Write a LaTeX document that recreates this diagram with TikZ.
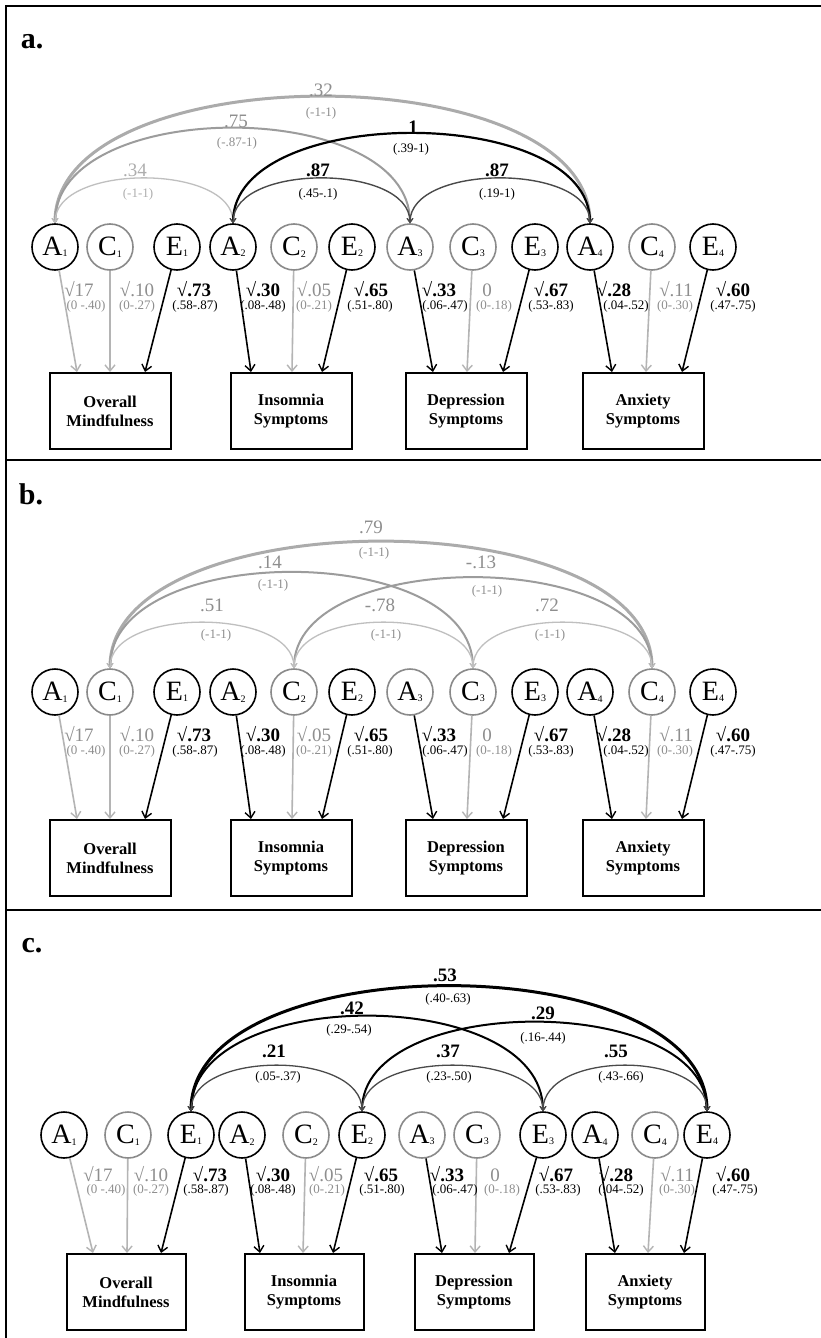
\documentclass[tikz,border=0pt]{standalone}
\usepackage{fontspec}
\setmainfont{Liberation Serif}
\usetikzlibrary{arrows.meta}
\definecolor{cgray}{HTML}{8A8A8A}
\definecolor{lgray}{HTML}{B4B4B4}
\definecolor{tgray}{HTML}{8E8E8E}
\definecolor{ltgray}{HTML}{AEAEAE}
\definecolor{dgray}{HTML}{4A4A4A}
\definecolor{mgray}{HTML}{9C9C9C}
\newcommand\fs[2]{\fontsize{#1}{#2}\selectfont}
\newcommand\lsub[1]{\kern0.2pt\raisebox{-1.5pt}{\fs{10}{10}#1}}
\begin{document}
\begin{tikzpicture}[x=1pt,y=-1pt,
  latent/.style={circle,draw,line width=1.6pt,minimum size=46pt,inner sep=0pt,font=\fs{28}{28}},
  obs/.style={rectangle,draw,line width=2pt,minimum width=121pt,minimum height=76pt,align=center,font=\fs{16.5}{19}\bfseries},
  sig/.style={line width=1.6pt,draw=black,-{Straight Barb[length=6pt,width=10pt,line width=1.4pt]}},
  ns/.style={line width=1.6pt,draw=lgray,-{Straight Barb[length=6pt,width=10pt,line width=1.4pt]}},
  cov/.style={{Straight Barb[length=4pt,width=6pt,line width=1pt]}-{Straight Barb[length=4pt,width=6pt,line width=1pt]}},
  val/.style={font=\fs{19}{19},inner sep=0pt,text height=14pt,text depth=0pt},
  aval/.style={font=\fs{19}{19},inner sep=0pt,text height=13pt,text depth=0pt},
  rng/.style={font=\fs{13}{13},inner sep=0pt,text height=10pt,text depth=3pt},
  plab/.style={font=\fs{30}{30}\bfseries,inner sep=0pt}
]
\useasboundingbox (0,0) rectangle (821,1338);
\fill[white] (0,0) rectangle (821,1338);
% frame
\draw[line width=2.5pt] (6,1338) -- (6,6) -- (821,6);
\draw[line width=2pt] (6,460) -- (821,460);
\draw[line width=2.5pt] (6,910) -- (821,910);

% ---------- panels a and b: bottom rows ----------
\foreach \p/\cy/\ry in {a/247/411, b/692/858} {
  \foreach \n/\l/\d/\x/\c in {A1/A/1/55/black, C1/C/1/110/cgray, E1/E/1/177/black,
      A2/A/2/233/black, C2/C/2/294/cgray, E2/E/2/352/black,
      A3/A/3/410/cgray, C3/C/3/473/cgray, E3/E/3/535/black,
      A4/A/4/590/black, C4/C/4/652/cgray, E4/E/4/713/black} {
    \node[latent,draw=\c] (\p\n) at (\x,\cy) {\l\lsub{\d}};
  }
  \node[obs] (\p Mind) at (110,\ry) {Overall\\Mindfulness};
  \node[obs] (\p Ins) at (291,\ry) {Insomnia\\Symptoms};
  \node[obs] (\p Dep) at (466,\ry) {Depression\\Symptoms};
  \node[obs] (\p Anx) at (643,\ry) {Anxiety\\Symptoms};
  \foreach \s/\t/\dx/\st in {A1/Mind/-33/ns, C1/Mind/0/ns, E1/Mind/35/sig,
      A2/Ins/-40/sig, C2/Ins/1/ns, E2/Ins/31/sig,
      A3/Dep/-33/sig, C3/Dep/1/ns, E3/Dep/37/sig,
      A4/Anx/-31/sig, C4/Anx/3/ns, E4/Anx/39/sig} {
    \draw[\st] (\p\s) -- ([xshift=\dx pt]\p\t.north);
  }
  \foreach \xv/\xr/\c/\tv/\tr in {79/86/tgray/√17/(0 -.40), 137/137/tgray/√.10/(0-.27),
      194/195/black/\textbf{√.73}/(.58-.87), 263/263/black/\textbf{√.30}/(.08-.48),
      314/314/tgray/√.05/(0-.21), 371/370/black/\textbf{√.65}/(.51-.80),
      439/445/black/\textbf{√.33}/(.06-.47), 487/494/tgray/0/(0-.18),
      551/551/black/\textbf{√.67}/(.53-.83), 614/626/black/\textbf{√.28}/(.04-.52),
      676/675/tgray/√.11/(0-.30), 733/733/black/\textbf{√.60}/(.47-.75)} {
    \node[val,text=\c] at (\xv,\cy+42) {\tv};
    \node[rng,text=\c] at (\xr,\cy+58.5) {\tr};
  }
}

% ---------- panel c: bottom row ----------
\foreach \n/\l/\d/\x/\c in {A1/A/1/64/black, C1/C/1/128/cgray, E1/E/1/191/black,
    A2/A/2/242/black, C2/C/2/306/cgray, E2/E/2/362/black,
    A3/A/3/422/cgray, C3/C/3/477/cgray, E3/E/3/543/black,
    A4/A/4/595/black, C4/C/4/655/cgray, E4/E/4/707/black} {
  \node[latent,draw=\c] (c\n) at (\x,1135) {\l\lsub{\d}};
}
\node[obs,minimum width=119pt] (cMind) at (126,1292) {Overall\\Mindfulness};
\node[obs,minimum width=119pt] (cIns) at (304,1292) {Insomnia\\Symptoms};
\node[obs,minimum width=119pt] (cDep) at (474,1292) {Depression\\Symptoms};
\node[obs,minimum width=119pt] (cAnx) at (645,1292) {Anxiety\\Symptoms};
\foreach \s/\t/\dx/\st in {A1/Mind/-33/ns, C1/Mind/1/ns, E1/Mind/35/sig,
    A2/Ins/-44/sig, C2/Ins/-1/ns, E2/Ins/29/sig,
    A3/Dep/-32/sig, C3/Dep/1/ns, E3/Dep/35/sig,
    A4/Anx/-30/sig, C4/Anx/3/ns, E4/Anx/39/sig} {
  \draw[\st] (c\s) -- ([xshift=\dx pt]c\t.north);
}
\foreach \xv/\xr/\c/\tv/\tr in {98/106/tgray/√17/(0 -.40), 151/151/tgray/√.10/(0-.27),
    210/206/black/\textbf{√.73}/(.58-.87), 273/273/black/\textbf{√.30}/(.08-.48),
    326/327/tgray/√.05/(0-.21), 381/382/black/\textbf{√.65}/(.51-.80),
    447/455/black/\textbf{√.33}/(.06-.47), 495/502/tgray/0/(0-.18),
    556/558/black/\textbf{√.67}/(.53-.83), 616/621/black/\textbf{√.28}/(.04-.52),
    677/677/tgray/√.11/(0-.30), 733/735/black/\textbf{√.60}/(.47-.75)} {
  \node[val,text=\c] at (\xv,1174) {\tv};
  \node[rng,text=\c] at (\xr,1190) {\tr};
}

% ---------- panel labels ----------
\node[plab] (la) at (32,42) {a.};
\node[plab] (lb) at (31,494) {b.};
\node[plab] (lc) at (32,946) {c.};

% ---------- panel a arcs ----------
\draw[cov,line width=3pt,draw=mgray!85] (aA1.north) .. controls +(0,-169) and +(0,-169) .. (aA4.north);
\draw[cov,line width=2pt,draw=mgray] (aA1.north) .. controls +(0,-127) and +(0,-127) .. (aA3.north);
\draw[cov,line width=1.3pt,draw=lgray!85] (aA1.north) .. controls +(0,-60) and +(0,-60) .. (aA2.north);
\draw[cov,line width=2.2pt,draw=black] (aA2.north) .. controls +(0,-120) and +(0,-120) .. (aA4.north);
\draw[cov,line width=1.4pt,draw=dgray] (aA2.north) .. controls +(0,-60) and +(0,-60) .. (aA3.north);
\draw[cov,line width=1.4pt,draw=dgray] (aA3.north) .. controls +(0,-60) and +(0,-60) .. (aA4.north);
\node[aval,text=tgray] at (321,90) {.32};
\node[rng,text=tgray] at (321,113) {(-1-1)};
\node[aval,text=tgray] at (236,121) {.75};
\node[rng,text=tgray] at (237,143) {(-.87-1)};
\node[aval] at (413,127) {\textbf{1}};
\node[rng] at (411,149) {(.39-1)};
\node[aval,text=ltgray] at (135,170) {.34};
\node[rng,text=ltgray] at (138,194) {(-1-1)};
\node[aval] at (318,170) {\textbf{.87}};
\node[rng] at (318,194) {(.45-.1)};
\node[aval] at (497,170) {\textbf{.87}};
\node[rng] at (497,194) {(.19-1)};

% ---------- panel b arcs ----------
\draw[cov,line width=3pt,draw=mgray!85] (bC1.north) .. controls +(0,-169) and +(0,-169) .. (bC4.north);
\draw[cov,line width=2pt,draw=mgray] (bC1.north) .. controls +(0,-128) and +(0,-128) .. (bC3.north);
\draw[cov,line width=2pt,draw=mgray] (bC2.north) .. controls +(0,-121) and +(0,-121) .. (bC4.north);
\draw[cov,line width=1.3pt,draw=lgray!85] (bC1.north) .. controls +(0,-61) and +(0,-61) .. (bC2.north);
\draw[cov,line width=1.3pt,draw=lgray!85] (bC2.north) .. controls +(0,-61) and +(0,-61) .. (bC3.north);
\draw[cov,line width=1.3pt,draw=lgray!85] (bC3.north) .. controls +(0,-61) and +(0,-61) .. (bC4.north);
\node[aval,text=tgray] at (371,527) {.79};
\node[rng,text=tgray] at (374,553) {(-1-1)};
\node[aval,text=tgray] at (270,562) {.14};
\node[rng,text=tgray] at (273,585) {(-1-1)};
\node[aval,text=tgray] at (481,562) {-.13};
\node[rng,text=tgray] at (487,591) {(-1-1)};
\node[aval,text=tgray] at (212,605) {.51};
\node[rng,text=tgray] at (216,635) {(-1-1)};
\node[aval,text=tgray] at (380,605) {-.78};
\node[rng,text=tgray] at (386,635) {(-1-1)};
\node[aval,text=tgray] at (547,605) {.72};
\node[rng,text=tgray] at (550,635) {(-1-1)};

% ---------- panel c arcs ----------
\draw[cov,line width=3pt,draw=black] (cE1.north) .. controls +(0,-167) and +(0,-167) .. (cE4.north);
\draw[cov,line width=2pt,draw=black] (cE1.north) .. controls +(0,-127) and +(0,-127) .. (cE3.north);
\draw[cov,line width=2pt,draw=black] (cE2.north) .. controls +(0,-119) and +(0,-119) .. (cE4.north);
\draw[cov,line width=1.3pt,draw=dgray] (cE1.north) .. controls +(0,-61) and +(0,-61) .. (cE2.north);
\draw[cov,line width=1.3pt,draw=dgray] (cE2.north) .. controls +(0,-61) and +(0,-61) .. (cE3.north);
\draw[cov,line width=1.3pt,draw=dgray] (cE3.north) .. controls +(0,-61) and +(0,-61) .. (cE4.north);
\node[aval] at (445,975) {\textbf{.53}};
\node[rng] at (448,999) {(.40-.63)};
\node[aval] at (352,1008) {\textbf{.42}};
\node[rng] at (349,1030) {(.29-.54)};
\node[aval] at (543,1013) {\textbf{.29}};
\node[rng] at (543,1038) {(.16-.44)};
\node[aval] at (274,1051) {\textbf{.21}};
\node[rng] at (278,1077) {(.05-.37)};
\node[aval] at (448,1051) {\textbf{.37}};
\node[rng] at (449,1077) {(.23-.50)};
\node[aval] at (616,1051) {\textbf{.55}};
\node[rng] at (621,1077) {(.43-.66)};
\end{tikzpicture}
\end{document}
